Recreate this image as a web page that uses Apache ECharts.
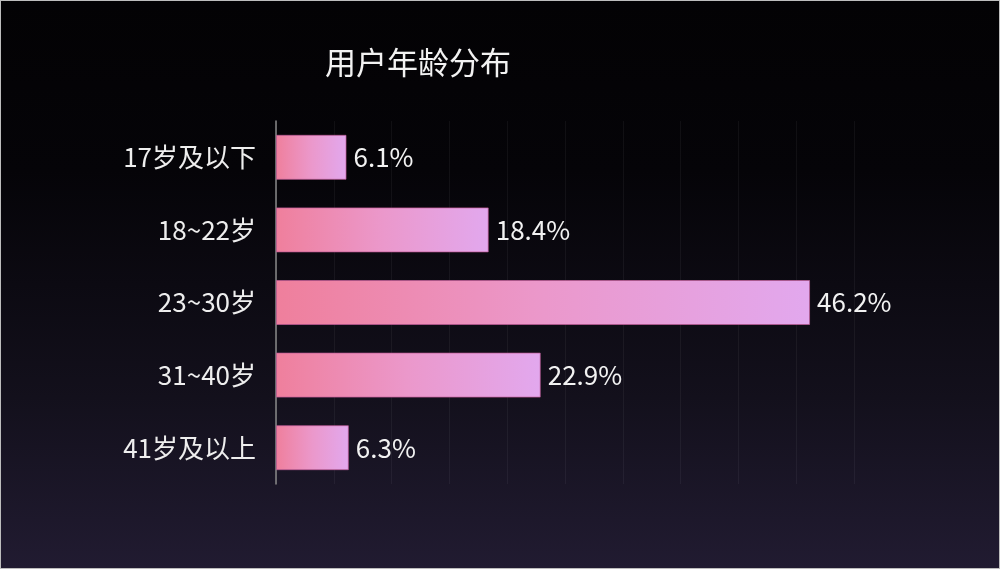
<!DOCTYPE html>
<html>
<head>
<meta charset="utf-8">
<script src="https://cdn.jsdelivr.net/npm/echarts@6/dist/echarts.min.js"></script>
<style>
  html, body { margin: 0; padding: 0; }
  #main { width: 1000px; height: 569px; box-sizing: border-box; border: 1px solid #bdbdbd;
    background: linear-gradient(to bottom, #030204 0%, #050408 30%, #13101c 70%, #211b31 100%); }
</style>
</head>
<body>
<div id="main"></div>
<script>
// 年龄段
var categories = ['17岁及以下', '18~22岁', '23~30岁', '31~40岁', '41岁及以上'];
// 占比 %
var values = [6.1, 18.4, 46.2, 22.9, 6.3];

var chart = echarts.init(document.getElementById('main'));

var option = {
    backgroundColor: 'transparent',
    title: {
        text: '用户年龄分布',
        left: 319,
        top: 41,
        textStyle: {
            color: '#f2f2f2',
            fontSize: 31,
            fontWeight: 'normal',
            fontFamily: 'Noto Sans CJK SC'
        }
    },
    grid: {
        left: 275,
        right: 145,
        top: 120,
        bottom: 84
    },
    xAxis: {
        type: 'value',
        min: 0,
        max: 50,
        interval: 5,
        axisLine: { show: false },
        axisTick: { show: false },
        axisLabel: { show: false },
        splitLine: {
            lineStyle: { color: 'rgba(255,255,255,0.05)', width: 1 }
        }
    },
    yAxis: {
        type: 'category',
        inverse: true,
        data: categories,
        axisLine: { show: true, lineStyle: { color: '#8a8a8a', width: 1.5 } },
        axisTick: { show: false },
        axisLabel: {
            margin: 20,
            color: '#eeeeee',
            fontSize: 26,
            fontFamily: 'Noto Sans CJK SC'
        }
    },
    series: [{
        type: 'bar',
        data: values,
        barWidth: 45,
        itemStyle: {
            color: new echarts.graphic.LinearGradient(0, 0, 1, 0, [
                { offset: 0, color: '#ef7f9c' },
                { offset: 0.5, color: '#eb98cb' },
                { offset: 1, color: '#e2a8ee' }
            ]),
            borderColor: 'rgba(190,90,150,0.7)',
            borderWidth: 1
        },
        label: {
            show: true,
            position: 'right',
            distance: 7,
            formatter: '{c}%',
            color: '#f2f2f2',
            fontSize: 26,
            fontFamily: 'Noto Sans CJK SC'
        }
    }]
};

chart.setOption(option);
</script>
</body>
</html>
